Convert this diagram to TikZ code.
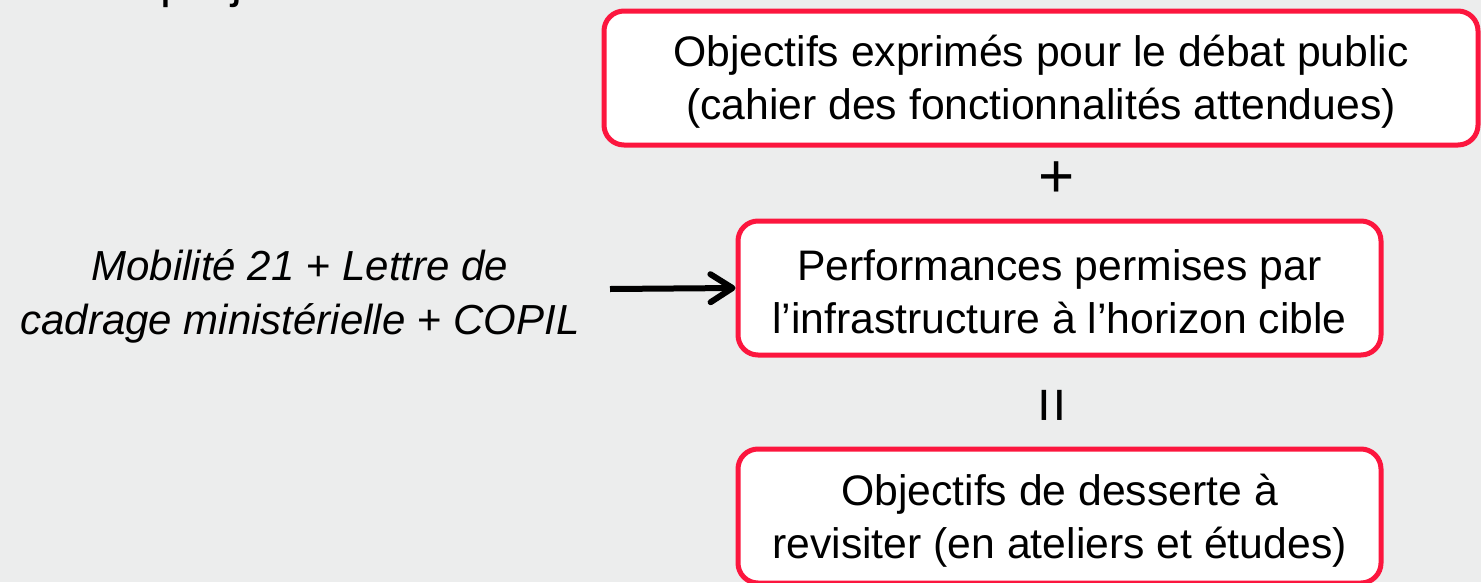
\documentclass[tikz,border=0pt]{standalone}
\usepackage{fontspec}
\setmainfont{Liberation Sans}
\usetikzlibrary{arrows.meta}
\definecolor{bg}{RGB}{236,237,237}
\definecolor{boxred}{RGB}{252,22,62}
\begin{document}
\begin{tikzpicture}[x=1pt,y=-1pt,
  box/.style={draw=boxred, line width=5pt, fill=white, rounded corners=20pt,
    minimum width=643pt, minimum height=134pt, align=center, inner sep=0pt,
    font=\fontsize{42.7}{53}\selectfont},
  sym/.style={inner sep=0pt, font=\fontsize{62}{62}\selectfont},
  srctext/.style={align=center, inner sep=0pt, font=\itshape\fontsize{42}{54}\selectfont},
  conn/.style={line width=6pt, -{Straight Barb[length=22pt,width=28pt,round]}}]
\fill[bg] (0,0) rectangle (1481,582);
\useasboundingbox (0,0) rectangle (1481,582);
\begin{scope}
\clip (0,0) rectangle (1481,582);
\node[anchor=base west, inner sep=0pt, font=\fontsize{49}{49}\selectfont] (head) at (160,-3) {projet};
\node[box, minimum width=874pt] (b1) at (1041,78)
  {\rule{0pt}{38pt}Objectifs exprimés pour le débat public\\(cahier des fonctionnalités attendues)};
\node[sym] (plus) at (1057,180) {+};
\node[box] (b2) at (1059.5,288)
  {\rule{0pt}{38pt}Performances permises par\\l’infrastructure à l’horizon cible};
\node[sym, rotate=90] (eq) at (1057,405) {=};
\node[box] (b3) at (1059.5,516)
  {\rule{0pt}{40pt}Objectifs de desserte à\\revisiter (en ateliers et études)};
\node[srctext] (src) at (300,296)
  {Mobilité 21 \textup{+} Lettre de\\cadrage ministérielle \textup{+} COPIL};
\coordinate (a0) at (610,289);
\draw[conn] (a0) -- (b2.west);
\end{scope}
\end{tikzpicture}
\end{document}
